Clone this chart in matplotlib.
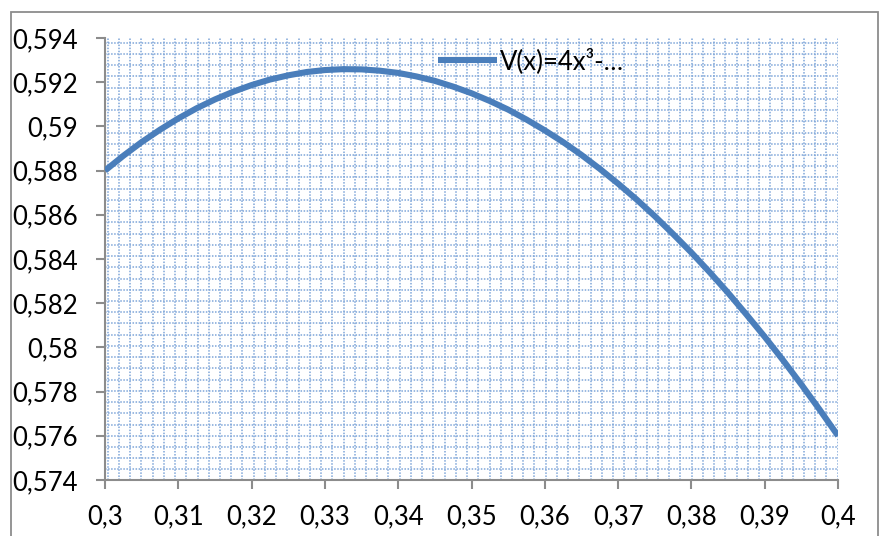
import matplotlib
matplotlib.use("Agg")
import matplotlib.pyplot as plt
from matplotlib.patches import Rectangle
from matplotlib.ticker import FuncFormatter, MultipleLocator

# values
x_vals = [0.3000, 0.3025, 0.3050, 0.3075, 0.3100, 0.3125, 0.3150, 0.3175, 0.3200, 0.3225,
          0.3250, 0.3275, 0.3300, 0.3325, 0.3350, 0.3375, 0.3400, 0.3425, 0.3450, 0.3475,
          0.3500, 0.3525, 0.3550, 0.3575, 0.3600, 0.3625, 0.3650, 0.3675, 0.3700, 0.3725,
          0.3750, 0.3775, 0.3800, 0.3825, 0.3850, 0.3875, 0.3900, 0.3925, 0.3950, 0.3975,
          0.4000]
v_vals = [0.58800, 0.58867, 0.58929, 0.58985, 0.59036, 0.59082, 0.59122, 0.59157, 0.59187, 0.59212,
          0.59231, 0.59246, 0.59255, 0.59259, 0.59258, 0.59252, 0.59242, 0.59226, 0.59206, 0.59180,
          0.59150, 0.59115, 0.59076, 0.59031, 0.58982, 0.58929, 0.58871, 0.58808, 0.58741, 0.58670,
          0.58594, 0.58513, 0.58429, 0.58340, 0.58247, 0.58149, 0.58048, 0.57942, 0.57832, 0.57718,
          0.57600]
series_label = "V(x)=4x³-…"

plt.rcParams['font.family'] = ['Lato', 'DejaVu Sans']

W, H = 880, 536
fig = plt.figure(figsize=(W / 100, H / 100), dpi=100)
ax = fig.add_axes([105 / W, 1 - 480 / H, (838 - 105) / W, (480 - 38) / H])

# outer chart border
fig.add_artist(Rectangle((10.5 / W, -0.05), (878 - 10.5) / W, 1.05 - 12.5 / H,
                         transform=fig.transFigure, fill=False,
                         edgecolor='#8c8c8c', linewidth=1.3, clip_on=False))

# pattern-fill grid of the plot area (fixed pixel spacing)
step = 11.23
grid_kw = dict(color='#7fa6d9', linewidth=1.1, linestyle=(0, (1, 1)), zorder=0)
k = 0
while 2.7 + k * step <= 733.5:
    ax.axvline(x=0.3 + (2.7 + k * step) / 733 * 0.1, **grid_kw)
    k += 1
k = 0
while 4.7 + k * step <= 442:
    ax.axhline(y=0.594 - (4.7 + k * step) / 442 * 0.02, **grid_kw)
    k += 1

ax.plot(x_vals, v_vals, color='#4a7ebb', linewidth=4.4, solid_capstyle='butt',
        solid_joinstyle='round', label=series_label, zorder=3)

ax.set_xlim(0.3, 0.4)
ax.set_ylim(0.574, 0.594)
ax.xaxis.set_major_locator(MultipleLocator(0.01))
ax.yaxis.set_major_locator(MultipleLocator(0.002))
fmt = FuncFormatter(lambda v, p: ('%g' % round(v, 4)).replace('.', ','))
ax.xaxis.set_major_formatter(fmt)
ax.yaxis.set_major_formatter(fmt)

for s in ['top', 'right']:
    ax.spines[s].set_visible(False)
for s in ['left', 'bottom']:
    ax.spines[s].set_color('#8c8c8c')
    ax.spines[s].set_linewidth(1.5)
ax.tick_params(axis='both', direction='out', length=6.5, width=1.5, color='#8c8c8c',
               labelsize=18.5, labelcolor='#000000')
ax.tick_params(axis='y', pad=13)
ax.tick_params(axis='x', pad=11)

leg = ax.legend(loc='upper left', bbox_to_anchor=(0.44, 1.0), frameon=False,
                handlelength=2.3, handletextpad=0.1, fontsize=18.5, borderaxespad=0)

fig.savefig('out.png', dpi=100)
